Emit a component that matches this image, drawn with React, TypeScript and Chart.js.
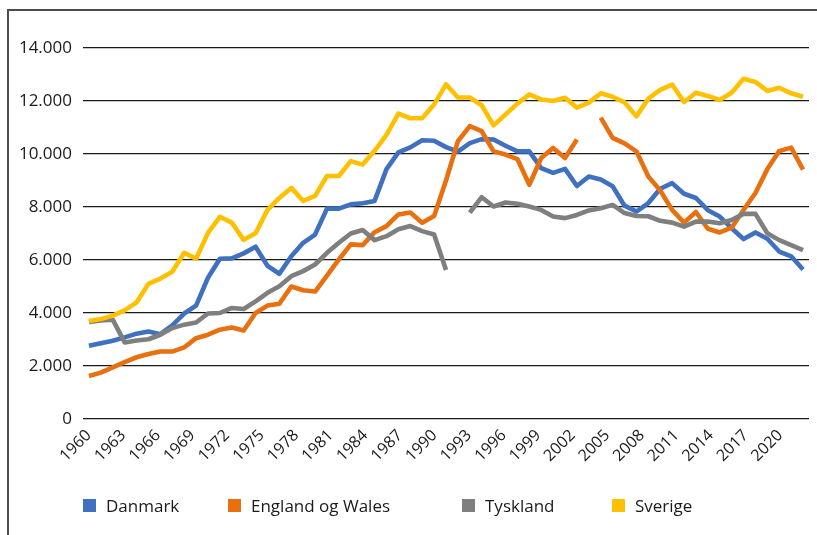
import React, { useEffect, useRef } from 'react';
import { Chart, registerables } from 'chart.js';

Chart.register(...registerables);

const years = [
  '1960', '1961', '1962', '1963', '1964', '1965', '1966', '1967', '1968', '1969',
  '1970', '1971', '1972', '1973', '1974', '1975', '1976', '1977', '1978', '1979',
  '1980', '1981', '1982', '1983', '1984', '1985', '1986', '1987', '1988', '1989',
  '1990', '1991', '1992', '1993', '1994', '1995', '1996', '1997', '1998', '1999',
  '2000', '2001', '2002', '2003', '2004', '2005', '2006', '2007', '2008', '2009',
  '2010', '2011', '2012', '2013', '2014', '2015', '2016', '2017', '2018', '2019',
  '2020',
];

const tickLabels = [
  '1960', '1963', '1966', '1969', '1972', '1975', '1978', '1981', '1984', '1987', '1990',
  '1993', '1996', '1999', '2002', '2005', '2008', '2011', '2014', '2017', '2020',
];

const danmark = [
  2760, 2860, 2950, 3080, 3220, 3300, 3200, 3530, 3980, 4280,
  5330, 6050, 6060, 6250, 6500, 5780, 5480, 6140, 6650, 6960,
  7940, 7940, 8100, 8140, 8230, 9430, 10060, 10250, 10520, 10500,
  10260, 10090, 10410, 10560, 10550, 10310, 10100, 10100, 9470, 9290,
  9440, 8790, 9150, 9040, 8780, 8050, 7830, 8150, 8690, 8900,
  8500, 8340, 7880, 7640, 7200, 6790, 7040, 6800, 6320, 6140,
  5640,
];

const england = [
  1620, 1750, 1950, 2150, 2330, 2450, 2545, 2545, 2700, 3050,
  3180, 3370, 3450, 3340, 4000, 4280, 4350, 5000, 4860, 4810,
  5410, 6020, 6590, 6560, 7050, 7280, 7720, 7790, 7410, 7660,
  9000, 10480, 11050, 10860, 10100, 9980, 9810, 8840, 9850, 10230,
  9850, 10550, null, 11370, 10610, 10400, 10100, 9150, 8620, 7890,
  7410, 7810, 7180, 7040, 7220, 7890, 8530, 9430, 10110, 10240,
  9410,
];

const tyskland = [
  3660, 3720, 3750, 2890, 2960, 3010, 3180, 3430, 3560, 3640,
  3980, 4000, 4190, 4150, 4440, 4760, 5010, 5390, 5580, 5830,
  6270, 6650, 7000, 7130, 6750, 6900, 7160, 7280, 7090, 6960,
  5620, null, 7790, 8370, 8020, 8170, 8120, 8020, 7890, 7640,
  7580, 7700, 7870, 7950, 8080, 7770, 7660, 7650, 7480, 7410,
  7260, 7450, 7450, 7390, 7510, 7740, 7740, 7010, 6750, 6560,
  6370,
];

const sverige = [
  3700, 3770, 3900, 4100, 4400, 5100, 5300, 5560, 6270, 6050,
  7020, 7630, 7410, 6760, 7010, 7890, 8340, 8720, 8230, 8420,
  9170, 9170, 9730, 9600, 10120, 10720, 11520, 11350, 11350, 11870,
  12630, 12130, 12130, 11840, 11080, 11490, 11900, 12250, 12060, 12000,
  12120, 11750, 11940, 12290, 12160, 11950, 11420, 12090, 12420, 12620,
  11960, 12310, 12190, 12040, 12310, 12840, 12720, 12380, 12500, 12290,
  12160,
];

const seriesNames = ['Danmark', 'England og Wales', 'Tyskland', 'Sverige'];
const seriesValues = [danmark, england, tyskland, sverige];
const seriesColors = ['#4070C0', '#E8700E', '#7F7F7F', '#FFC000'];

const FONT = '"Open Sans", "DejaVu Sans", sans-serif';

const fmt = (v: number | string) => {
  const n = Number(v);
  if (n === 0) return '0';
  return String(n).replace(/\B(?=(\d{3})+(?!\d))/g, '.');
};

export default function App() {
  const ref = useRef<HTMLCanvasElement>(null);

  useEffect(() => {
    if (!ref.current) return;
    const chart = new Chart(ref.current, {
      type: 'line',
      data: {
        labels: years,
        datasets: seriesNames.map((name, k) => ({
          label: name,
          data: seriesValues[k],
          borderColor: seriesColors[k],
          backgroundColor: seriesColors[k],
          borderWidth: 4.6,
          pointRadius: 0,
          pointHoverRadius: 0,
          tension: 0,
          spanGaps: false,
          borderJoinStyle: 'round' as const,
          borderCapStyle: 'butt' as const,
          order: 3 - k,
          xAxisID: 'x',
          yAxisID: 'y',
        })),
      },
      options: {
        animation: false,
        responsive: false,
        events: [],
        layout: { padding: { top: 48, right: 8, left: 0, bottom: 0 } },
        plugins: { legend: { display: false }, tooltip: { enabled: false } },
        scales: {
          x: { type: 'category', offset: true, display: false },
          xl: {
            type: 'linear',
            position: 'bottom',
            min: 1959.5,
            max: 2022.5,
            afterBuildTicks: (axis: any) => {
              axis.ticks = tickLabels.map((t) => ({ value: Number(t) }));
            },
            grid: { display: false, drawTicks: false },
            border: { display: false },
            ticks: {
              autoSkip: false,
              minRotation: 45,
              maxRotation: 45,
              padding: 7,
              color: '#1a1a1a',
              font: { family: FONT, size: 16 },
              callback: (v: any) => String(v),
            },
            afterFit: (s: any) => {
              s.height = 116;
            },
          },
          y: {
            min: 0,
            max: 14000,
            ticks: {
              stepSize: 2000,
              padding: 11,
              color: '#1a1a1a',
              font: { family: FONT, size: 17 },
              callback: (v: any) => fmt(v),
            },
            grid: { color: '#1a1a1a', lineWidth: 1.2, drawTicks: false },
            border: { display: false },
            afterFit: (s: any) => {
              s.width = 83;
            },
          },
        },
      },
    } as any);
    return () => chart.destroy();
  }, []);

  const legendLeft = [83, 228, 462, 612];

  return (
    <div
      style={{
        position: 'fixed',
        left: 0,
        top: 0,
        width: 817,
        height: 535,
        overflow: 'hidden',
        background: '#fff',
      }}
    >
      <div
        style={{
          position: 'absolute',
          left: 7,
          top: 9,
          width: 900,
          height: 700,
          borderLeft: '2px solid #4d4d4d',
          borderTop: '2px solid #4d4d4d',
        }}
      />
      <canvas ref={ref} width={817} height={535} style={{ position: 'absolute', left: 0, top: 0, display: 'block' }} />
      {seriesNames.map((name, k) => (
        <div
          key={name}
          style={{
            position: 'absolute',
            left: legendLeft[k],
            top: 495,
            height: 20,
            display: 'flex',
            alignItems: 'center',
            fontFamily: FONT,
            fontSize: 17,
            color: '#1a1a1a',
            whiteSpace: 'nowrap',
          }}
        >
          <span style={{ display: 'inline-block', width: 13, height: 13, background: seriesColors[k], marginRight: 10 }} />
          <span>{name}</span>
        </div>
      ))}
    </div>
  );
}
